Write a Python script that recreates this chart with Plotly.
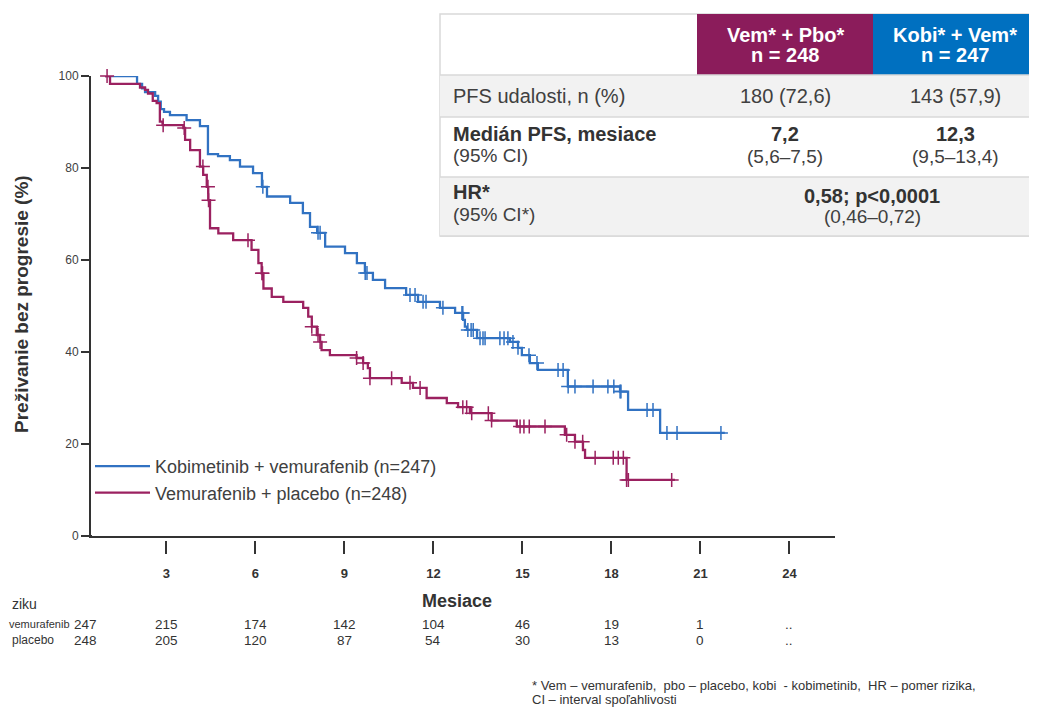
import plotly.graph_objects as go

# ---------------- data ----------------
month_ticks = [3, 6, 9, 12, 15, 18, 21, 24]
month_labels = ["3", "6", "9", "12", "15", "18", "21", "24"]
y_ticks = [0, 20, 40, 60, 80, 100]

# Kobimetinib + vemurafenib (step curve: time in months, PFS %)
blue_t = [0.93, 2.01, 2.18, 2.28, 2.62, 2.72, 2.81, 2.92, 3.12, 3.68,
          4.13, 4.40, 4.74, 5.14, 5.48, 5.92, 6.22, 6.39, 7.17, 7.60,
          7.84, 8.08, 8.35, 9.02, 9.42, 9.69, 9.96, 10.37, 11.08, 11.48,
          12.22, 12.73, 13.00, 13.06, 13.13, 13.47, 14.58, 14.85, 14.98, 15.25,
          15.52, 16.53, 18.29, 18.56, 19.64, 21.82]
blue_s = [100, 98.3, 97.3, 96.5, 95.7, 94.4, 92.8, 92.2, 91.5, 90.4,
          89.1, 83.0, 82.6, 81.7, 80.3, 78.9, 75.9, 73.8, 72.4, 70.2,
          67.2, 65.9, 62.9, 61.5, 59.3, 57.2, 55.7, 53.9, 52.4, 50.9,
          49.6, 48.5, 47.0, 45.5, 44.8, 43.0, 42.2, 40.9, 39.3, 37.6,
          36.1, 32.5, 31.4, 27.4, 22.4, 22.4]
blue_cens = [6.25, 8.11, 8.18, 9.70, 9.76, 11.21, 11.38, 11.65, 11.75, 12.32,
             12.96, 12.99, 13.16, 13.27, 13.34, 13.57, 13.67, 13.74, 14.24, 14.38,
             14.51, 14.68, 14.85, 15.22, 15.49, 16.20, 16.37, 16.54, 16.77, 17.38,
             17.88, 18.08, 18.29, 18.32, 19.20, 19.40, 19.87, 20.21, 21.69]

# Vemurafenib + placebo
mag_t = [0.93, 1.10, 2.11, 2.28, 2.38, 2.54, 2.67, 2.78, 2.87, 3.57,
         3.63, 3.80, 4.13, 4.24, 4.36, 4.41, 4.47, 4.75, 5.25, 5.87,
         6.10, 6.21, 6.27, 6.55, 6.94, 7.61, 7.78, 7.90, 8.07, 8.18,
         8.23, 8.51, 9.41, 9.63, 9.79, 9.86, 10.93, 11.31, 11.77, 12.45,
         12.83, 13.23, 13.96, 14.81, 16.43, 16.77, 17.04, 17.11, 18.51, 20.14]
mag_s = [100, 98.3, 97.5, 97.0, 96.2, 94.6, 94.1, 90.1, 89.3, 88.7,
         86.1, 83.9, 80.3, 78.5, 75.9, 73.0, 66.9, 65.8, 64.3, 62.2,
         59.3, 57.1, 53.8, 52.0, 50.9, 49.6, 47.7, 45.5, 43.7, 42.2,
         40.4, 39.3, 38.7, 37.6, 36.5, 34.3, 33.3, 32.2, 30.0, 28.9,
         28.0, 26.7, 25.1, 23.8, 22.0, 20.5, 18.7, 17.0, 12.2, 12.2]
mag_cens = [1.00, 2.89, 3.60, 4.23, 4.40, 4.42, 5.75, 6.22, 6.24, 7.90,
            8.11, 8.18, 9.41, 9.63, 9.86, 10.59, 11.21, 11.55, 12.99, 13.12,
            13.29, 13.85, 13.96, 14.92, 15.05, 15.23, 15.76, 16.49, 16.77, 17.03,
            17.45, 18.06, 18.23, 18.40, 18.51, 18.57, 20.03]

risk_times = [0, 3, 6, 9, 12, 15, 18, 21, 24]
risk_blue = ["247", "215", "174", "142", "104", "46", "19", "1", ".."]
risk_mag = ["248", "205", "120", "87", "54", "30", "13", "0", ".."]

name_blue = "Kobimetinib + vemurafenib (n=247)"
name_mag = "Vemurafenib + placebo (n=248)"

# ---------------- styling ----------------
C_BLUE = "#3172c2"
C_MAG = "#9b2160"
HDR_MAG = "#8b1c5b"
HDR_BLUE = "#0070c0"
TXT = "#404040"
FONT = "Liberation Sans, Arial, sans-serif"

OFF = 8                      # page body margin of the viewer
W, H = 1037 - OFF, 707 - OFF
# plot box, in reference-picture pixels
RL, RR, RT, RB = 91, 835, 76, 540
L, R, T, B = RL - OFF, RR - OFF, RT - OFF, RB - OFF


def px(x):
    return (x - RL) / (RR - RL)


def py(y):
    return (RB - y) / (RB - RT)


def step_value(ts, ss, t):
    v = ss[0]
    for ti, si in zip(ts, ss):
        if ti <= t:
            v = si
    return v


fig = go.Figure()

fig.add_trace(go.Scatter(x=blue_t, y=blue_s, mode="lines", line_shape="hv",
                         line=dict(color=C_BLUE, width=2.3), name=name_blue,
                         cliponaxis=False))
fig.add_trace(go.Scatter(x=mag_t, y=mag_s, mode="lines", line_shape="hv",
                         line=dict(color=C_MAG, width=2.3), name=name_mag,
                         cliponaxis=False))
fig.add_trace(go.Scatter(x=blue_cens, y=[step_value(blue_t, blue_s, t) for t in blue_cens],
                         mode="markers", showlegend=False, cliponaxis=False,
                         marker=dict(symbol="cross-thin", size=10,
                                     line=dict(color=C_BLUE, width=1.5))))
fig.add_trace(go.Scatter(x=mag_cens, y=[step_value(mag_t, mag_s, t) for t in mag_cens],
                         mode="markers", showlegend=False, cliponaxis=False,
                         marker=dict(symbol="cross-thin", size=10,
                                     line=dict(color=C_MAG, width=1.5))))
# carrier for the detached tick axis
fig.add_trace(go.Scatter(x=[None], y=[None], xaxis="x2", showlegend=False,
                         hoverinfo="skip"))

xr = [(RL - 77.4) / 29.67, (RR - 77.4) / 29.67]

fig.update_layout(
    width=W, height=H,
    margin=dict(l=L, r=W - R, t=T, b=H - B, pad=0),
    paper_bgcolor="white", plot_bgcolor="white",
    font=dict(family=FONT, color=TXT),
    showlegend=True,
    legend=dict(x=px(90), y=py(448), xanchor="left", yanchor="top",
                font=dict(size=18, color=TXT), bgcolor="rgba(0,0,0,0)",
                itemwidth=55, tracegroupgap=0),
    xaxis=dict(range=xr, showline=True, linecolor="#333", linewidth=2,
               ticks="", showticklabels=False, showgrid=False, zeroline=False,
               anchor="y"),
    xaxis2=dict(range=xr, overlaying="x", anchor="free", position=0, side="bottom",
                tickvals=month_ticks, ticktext=month_labels, ticks="outside",
                ticklen=13, tickwidth=2, tickcolor="#333", showline=False,
                showgrid=False, zeroline=False, ticklabelstandoff=8,
                tickfont=dict(size=13, color="#333", weight="bold")),
    yaxis=dict(domain=[4 / (RB - RT), 1], range=[0, 100], tickvals=y_ticks,
               ticks="outside", ticklen=8, tickwidth=2, tickcolor="#333",
               showline=True, linecolor="#333", linewidth=2, showgrid=False,
               zeroline=False, tickfont=dict(size=12, color=TXT)),
)

ann = []


def text(x, y, s, size, bold=False, color=TXT, anchor="left", xref="paper"):
    ann.append(dict(x=x, y=y, xref=xref, yref="paper", text=s, showarrow=False,
                    xanchor=anchor, yanchor="middle",
                    font=dict(size=size, color=color, family=FONT,
                              weight="bold" if bold else "normal")))


# axis titles
text(px(457), py(601), "Mesiace", 18, bold=True, color="#333", anchor="center")
ann.append(dict(x=px(21), y=py(304), xref="paper", yref="paper",
                text="Preživanie bez progresie (%)", showarrow=False, textangle=-90,
                xanchor="center", yanchor="middle",
                font=dict(size=19, color="#333", family=FONT, weight="bold")))

# risk table
text(px(10), py(604), "ziku", 14, anchor="left", color="#333")
text(px(72), py(624), "vemurafenib", 11, anchor="right", color="#333")
text(px(10), py(640), "placebo", 12, anchor="left", color="#333")
for t, a, b in zip(risk_times, risk_blue, risk_mag):
    if t == 0:
        xx, xref = px(85), "paper"
    else:
        xx, xref = t, "x"
    ann.append(dict(x=xx, y=py(624), xref=xref, yref="paper", text=a, showarrow=False,
                    xanchor="center", yanchor="middle",
                    font=dict(size=13.5, color="#333", family=FONT)))
    ann.append(dict(x=xx, y=py(640), xref=xref, yref="paper", text=b, showarrow=False,
                    xanchor="center", yanchor="middle",
                    font=dict(size=13.5, color="#333", family=FONT)))

# footnote
text(px(530), py(685), "* Vem – vemurafenib,  pbo – placebo, kobi  - kobimetinib,  HR – pomer rizika,", 13, color="#333")
text(px(530), py(699), "CI – interval spoľahlivosti", 13, color="#333")

# summary table
shapes = []


def rect(x0, y0, x1, y1, fill, line="rgba(0,0,0,0)", lw=0):
    shapes.append(dict(type="rect", xref="paper", yref="paper",
                       x0=px(x0), x1=px(x1), y0=py(y1), y1=py(y0),
                       fillcolor=fill, line=dict(color=line, width=lw), layer="above"))


def hline(x0, x1, y, color="#d9d9d9", lw=1.5):
    shapes.append(dict(type="line", xref="paper", yref="paper",
                       x0=px(x0), x1=px(x1), y0=py(y), y1=py(y),
                       line=dict(color=color, width=lw), layer="above"))


# short stub of the x axis left of the y axis
hline(82, 92, 536, color="#333", lw=2)

rect(440, 14, 1040, 236, "white", "#d9d9d9", 1.5)
rect(440, 75, 1040, 117, "#f2f2f2")
rect(440, 177, 1040, 236, "#f2f2f2")
rect(697, 14, 873, 75, HDR_MAG)
rect(873, 14, 1040, 75, HDR_BLUE)
for yy in (75, 117, 177, 236):
    hline(440, 1040, yy)
fig.update_layout(shapes=shapes)

text(px(785), py(35), "Vem* + Pbo*", 20, bold=True, color="white", anchor="center")
text(px(785), py(55), "n = 248", 20, bold=True, color="white", anchor="center")
text(px(955), py(35), "Kobi* + Vem*", 20, bold=True, color="white", anchor="center")
text(px(955), py(55), "n = 247", 20, bold=True, color="white", anchor="center")

text(px(451), py(96), "PFS udalosti, n (%)", 20)
text(px(785), py(96), "180 (72,6)", 20, anchor="center")
text(px(955), py(96), "143 (57,9)", 20, anchor="center")

text(px(451), py(134), "Medián PFS, mesiace", 20, bold=True, color="#333")
text(px(451), py(155), "(95% CI)", 19)
text(px(785), py(134), "7,2", 20, bold=True, color="#333", anchor="center")
text(px(785), py(156), "(5,6–7,5)", 19, anchor="center")
text(px(955), py(134), "12,3", 20, bold=True, color="#333", anchor="center")
text(px(955), py(156), "(9,5–13,4)", 19, anchor="center")

text(px(451), py(192), "HR*", 20, bold=True, color="#333")
text(px(451), py(215), "(95% CI*)", 19)
text(px(872), py(196), "0,58; p<0,0001", 20, bold=True, color="#333", anchor="center")
text(px(872), py(216), "(0,46–0,72)", 19, anchor="center")

fig.update_layout(annotations=ann)

fig.write_html("out.html")
